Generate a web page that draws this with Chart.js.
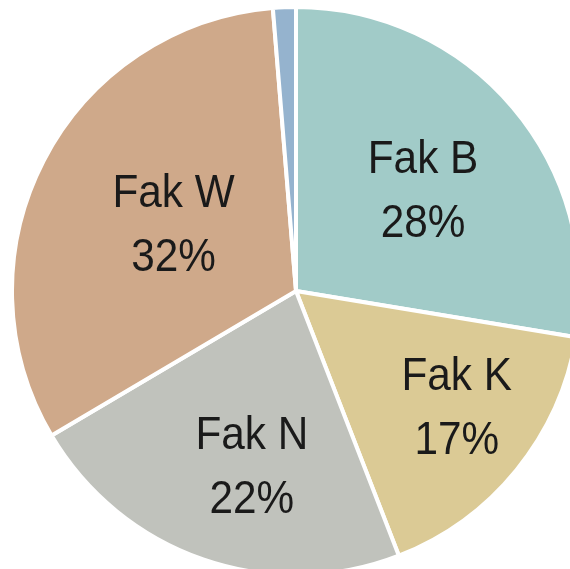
<!DOCTYPE html>
<html>
<head>
<meta charset="utf-8">
<script src="https://cdn.jsdelivr.net/npm/chart.js@4/dist/chart.umd.min.js"></script>
<style>
  html, body { margin: 0; padding: 0; background: #fff; overflow: hidden; width: 570px; height: 569px; }
  #wrap { position: absolute; left: 10px; top: 5px; width: 572px; height: 572px; }
</style>
</head>
<body>
<div id="wrap"><canvas id="chart" width="572" height="572"></canvas></div>
<script>
// slices, clockwise from 12 o'clock
var categories = ['Fak B', 'Fak K', 'Fak N', 'Fak W', 'Andere'];
var shares = [27.6, 16.5, 22.4, 32.2, 1.3];
var shareLabels = ['28%', '17%', '22%', '32%', ''];
var colors = ['#a1cbc8', '#dbca95', '#c0c2bc', '#cfa98a', '#95b3ce'];

// where each label sits: fraction of radius, angle nudge (degrees)
var labelSpots = [
  {r: 0.57, da: 2},
  {r: 0.70, da: -3},
  {r: 0.64, da: -5},
  {r: 0.49, da: 1}
];

var sliceLabels = {
  id: 'sliceLabels',
  afterDatasetsDraw: function(chart) {
    var ctx = chart.ctx;
    var arcs = chart.getDatasetMeta(0).data;
    arcs.forEach(function(arc, i) {
      if (!shareLabels[i]) return;
      var p = arc.getProps(['x', 'y', 'startAngle', 'endAngle', 'outerRadius'], true);
      var a = (p.startAngle + p.endAngle) / 2 + labelSpots[i].da * Math.PI / 180;
      var r = p.outerRadius * labelSpots[i].r;
      ctx.save();
      ctx.translate(p.x + Math.cos(a) * r, p.y + Math.sin(a) * r);
      ctx.scale(0.9, 1); // the original font is a narrow one
      ctx.fillStyle = '#1a1a1a';
      ctx.font = '47px "Liberation Sans", Arial, sans-serif';
      ctx.textAlign = 'center';
      ctx.textBaseline = 'middle';
      ctx.fillText(categories[i], 0, -31);
      ctx.fillText(shareLabels[i], 0, 33);
      ctx.restore();
    });
  }
};

new Chart(document.getElementById('chart'), {
  type: 'pie',
  data: {
    labels: categories,
    datasets: [{
      data: shares,
      backgroundColor: colors,
      borderColor: '#ffffff',
      borderWidth: 4
    }]
  },
  options: {
    responsive: false,
    animation: false,
    layout: { padding: 0 },
    plugins: {
      legend: { display: false },
      tooltip: { enabled: false }
    }
  },
  plugins: [sliceLabels]
});
</script>
</body>
</html>
